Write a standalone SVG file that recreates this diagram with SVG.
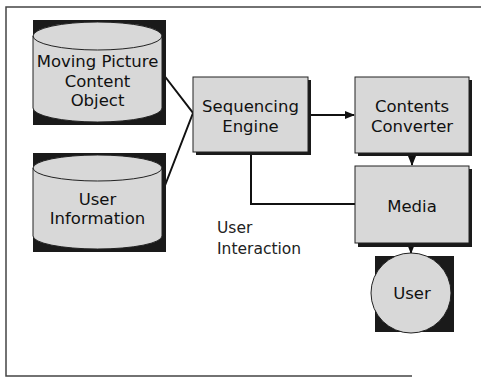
<svg xmlns="http://www.w3.org/2000/svg" width="481" height="378" viewBox="0 0 481 378">
<style>
.t{font-family:"DejaVu Sans","Liberation Sans",sans-serif;font-size:16.5px;fill:#111;text-anchor:middle}
.lbl{font-family:"DejaVu Sans","Liberation Sans",sans-serif;font-size:15.5px;fill:#222}
.fill{fill:#d8d8d8;stroke:#222;stroke-width:1}
.sh{fill:#1a1a1a}
.ln{fill:none;stroke:#111;stroke-width:2}
</style>
<defs>
<marker id="ah" viewBox="0 0 10 10" refX="9" refY="5" markerWidth="5" markerHeight="5" orient="auto">
<path d="M0,1 L10,5 L0,9 z" fill="#111"/>
</marker>
</defs>
<rect width="481" height="378" fill="#fff"/>
<g id="frame" fill="none" stroke="#444" stroke-width="1.5">
<path d="M481,7 H6 V376 H412"/>
</g>
<g id="connectors">
<path class="ln" d="M163,74 L193,113 L164,188"/>
<path class="ln" d="M308,115 H354" marker-end="url(#ah)"/>
<path class="ln" d="M412,154 V165" marker-end="url(#ah)"/>
<path class="ln" d="M251,152 V204 H355"/>
<path class="ln" d="M411,245 V253" marker-end="url(#ah)"/>
</g>
<g id="moving-picture">
<rect class="sh" x="33" y="20" width="133" height="105"/>
<path class="fill" d="M33,36 A64.5,14 0 0 1 162,36 V108 A64.5,14 0 0 1 33,108 Z"/>
<path d="M33,36 A64.5,14 0 0 0 162,36" fill="none" stroke="#222"/>
<text class="t" x="97.5" y="67">Moving Picture</text>
<text class="t" x="97.5" y="87">Content</text>
<text class="t" x="97.5" y="106">Object</text>
</g>
<g id="user-information">
<rect class="sh" x="33" y="153" width="133" height="99"/>
<path class="fill" d="M33,168 A64.5,13 0 0 1 162,168 V236 A64.5,13 0 0 1 33,236 Z"/>
<path d="M33,168 A64.5,13 0 0 0 162,168" fill="none" stroke="#222"/>
<text class="t" x="97.5" y="205">User</text>
<text class="t" x="97.5" y="224">Information</text>
</g>
<g id="sequencing-engine">
<rect class="sh" x="196" y="80" width="115" height="75"/>
<rect class="fill" x="193" y="77" width="115" height="75"/>
<text class="t" x="250.5" y="112">Sequencing</text>
<text class="t" x="250.5" y="132">Engine</text>
</g>
<g id="contents-converter">
<rect class="sh" x="358" y="80" width="114" height="76"/>
<rect class="fill" x="355" y="77" width="114" height="76"/>
<text class="t" x="412" y="112">Contents</text>
<text class="t" x="412" y="132">Converter</text>
</g>
<g id="media">
<rect class="sh" x="358" y="169" width="114" height="78"/>
<rect class="fill" x="355" y="166" width="114" height="77"/>
<text class="t" x="412" y="212">Media</text>
</g>
<g id="user">
<rect class="sh" x="375" y="256" width="79" height="76"/>
<circle class="fill" cx="411" cy="293" r="40"/>
<text class="t" x="412" y="299">User</text>
</g>
<g id="user-interaction">
<text class="lbl" x="217" y="233">User</text>
<text class="lbl" x="217" y="254">Interaction</text>
</g>
</svg>
